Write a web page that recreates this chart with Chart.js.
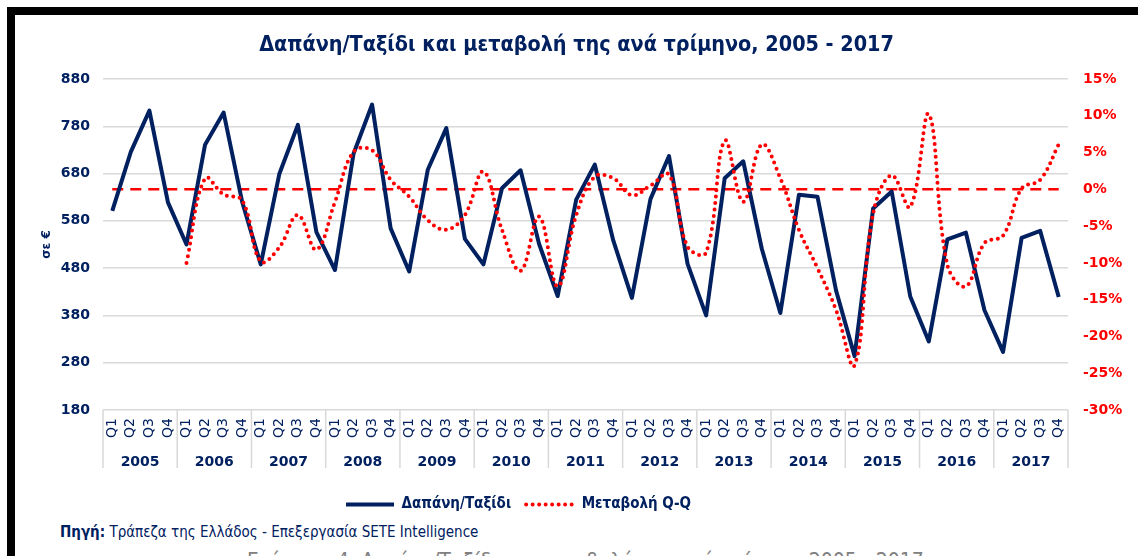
<!DOCTYPE html>
<html lang="el">
<head>
<meta charset="utf-8">
<title>Δαπάνη/Ταξίδι και μεταβολή</title>
<script src="https://cdn.jsdelivr.net/npm/chart.js@4.4.1/dist/chart.umd.min.js"></script>
<style>
  html, body { margin:0; padding:0; background:#fff; }
  body { width:1138px; height:556px; overflow:hidden; position:relative; font-family:'DejaVu Sans Condensed','DejaVu Sans',sans-serif; }
  .frame { position:absolute; left:7px; top:7px; right:0; bottom:0; border-left:8px solid #000; border-top:8px solid #000; }
  #chart { position:absolute; left:15px; top:15px; }
  .source { position:absolute; left:60px; top:523px; font-size:15px; color:#002060; white-space:nowrap; }
  .caption { position:absolute; left:247px; top:549px; font-size:21px; color:#808080; white-space:nowrap; }
</style>
</head>
<body>
<div class="frame"></div>
<canvas id="chart" width="1123" height="507"></canvas>
<div class="source"><b>Πηγή:</b> Τράπεζα της Ελλάδος - Επεξεργασία SETE Intelligence</div>
<div class="caption">Γράφημα 4: Δαπάνη/Ταξίδι και μεταβολή της ανά τρίμηνο, 2005 - 2017</div>
<script>
const NAVY = '#002060';
const RED = '#ff0000';

const years = ['2005','2006','2007','2008','2009','2010','2011','2012','2013','2014','2015','2016','2017'];
const quarters = ['Q1','Q2','Q3','Q4'];

// Δαπάνη/Ταξίδι (σε €), Q1..Q4 ανά έτος
const spend = [
  601, 726, 813, 619,
  530, 741, 809, 620,
  488, 679, 783, 556,
  476, 722, 826, 564,
  473, 688, 776, 542,
  488, 649, 687, 531,
  421, 625, 699, 538,
  417, 626, 717, 489,
  380, 670, 706, 521,
  385, 635, 631, 433,
  294, 606, 642, 420,
  325, 541, 555, 391,
  303, 544, 559, 419
];

// Μεταβολή Q-Q (%), δεν υπάρχει για το 2005
const changeQQ = [
  null, null, null, null,
  -10.0, 1.5, -0.7, -1.5,
  -9.8, -7.9, -3.5, -8.2,
  -1.7, 5.1, 5.3, 1.3,
  -1.0, -4.2, -5.5, -3.5,
  2.4, -5.5, -11.1, -3.7,
  -13.2, -3.5, 1.7, 1.5,
  -0.8, 0.5, 2.0, -7.8,
  -8.6, 6.6, -1.7, 6.1,
  1.5, -5.5, -10.7, -16.4,
  -23.9, -3.3, 1.9, -2.4,
  10.2, -10.3, -13.2, -7.3,
  -6.3, 0.1, 1.3, 6.1
];

const leftMin = 180, leftMax = 880, leftStep = 100;
const rightMin = -30, rightMax = 15, rightStep = 5;

const labels = years.flatMap(() => quarters);

Chart.defaults.font.family = '"DejaVu Sans", sans-serif';

// dashed 0% line across the categories
const zeroLine = {
  id: 'zeroLine',
  beforeDatasetsDraw(chart){
    const x = chart.scales.x, y = chart.scales.y1, ctx = chart.ctx;
    const py = y.getPixelForValue(0);
    ctx.save();
    ctx.strokeStyle = RED; ctx.lineWidth = 2.5; ctx.setLineDash([11, 7]);
    ctx.beginPath();
    ctx.moveTo(x.getPixelForValue(0), py);
    ctx.lineTo(x.getPixelForValue(labels.length - 1), py);
    ctx.stroke();
    ctx.restore();
  }
};

// second row of the x axis: years + separators
const yearAxis = {
  id: 'yearAxis',
  afterDraw(chart){
    const x = chart.scales.x, ctx = chart.ctx, top = chart.chartArea.bottom;
    const step = x.getPixelForValue(1) - x.getPixelForValue(0);
    ctx.save();
    ctx.strokeStyle = '#d9d9d9'; ctx.lineWidth = 1.5;
    for(let k = 0; k <= years.length; k++){
      const px = x.getPixelForValue(k * 4) - step / 2;
      ctx.beginPath(); ctx.moveTo(px, top); ctx.lineTo(px, top + 58); ctx.stroke();
    }
    ctx.fillStyle = NAVY;
    ctx.font = 'bold 14px "DejaVu Sans"';
    ctx.textAlign = 'center'; ctx.textBaseline = 'middle';
    years.forEach((yr, k) => {
      const cx = (x.getPixelForValue(k * 4 + 1) + x.getPixelForValue(k * 4 + 2)) / 2;
      ctx.fillText(yr, cx, top + 52);
    });
    ctx.restore();
  }
};

// legend sits left of centre in the original
const legendShift = {
  id: 'legendShift',
  afterLayout(chart){
    const lg = chart.legend;
    if(!lg || !lg.lineWidths) return;
    const pad = lg.options.labels.padding;
    const start = (lg.left + pad + lg.right - lg.lineWidths[0]) / 2;
    const d = 331 - start;
    lg.left += d; lg.right += d;
  }
};

new Chart(document.getElementById('chart'), {
  type: 'line',
  data: {
    labels,
    datasets: [
      { label:'Δαπάνη/Ταξίδι', data:spend, yAxisID:'y', borderColor:NAVY, backgroundColor:NAVY,
        borderWidth:4, pointRadius:0, tension:0, borderJoinStyle:'round', order:2 },
      { label:'Μεταβολή Q-Q', data:changeQQ, yAxisID:'y1', borderColor:RED, backgroundColor:RED,
        borderWidth:4, borderDash:[0, 6.5], borderCapStyle:'round', pointRadius:0, tension:0.4, order:1 }
    ]
  },
  options: {
    responsive:false,
    animation:false,
    layout:{ padding:0 },
    plugins:{
      title:{ display:true, text:'Δαπάνη/Ταξίδι και μεταβολή της ανά τρίμηνο, 2005 - 2017', color:NAVY,
        font:{ family:'"DejaVu Sans Condensed", "DejaVu Sans"', size:21.4, weight:'bold' },
        padding:{ top:17.2, bottom:21.1 } },
      legend:{ position:'bottom',
        labels:{ usePointStyle:true, pointStyleWidth:48, color:NAVY, padding:15,
          font:{ family:'"DejaVu Sans Condensed", "DejaVu Sans"', size:15, weight:'bold' },
          generateLabels(chart){
            return chart.data.datasets.map((ds, i) => ({
              text: ds.label, datasetIndex: i, hidden: false, pointStyle: 'line',
              fillStyle: ds.borderColor, strokeStyle: ds.borderColor, fontColor: NAVY,
              lineWidth: ds.borderWidth, lineDash: ds.borderDash || [], lineCap: ds.borderCapStyle || 'butt'
            }));
          } } },
      tooltip:{ enabled:false }
    },
    scales:{
      x:{ offset:true,
        grid:{ display:false, drawTicks:false }, border:{ display:false },
        ticks:{ autoSkip:false, maxRotation:90, minRotation:90, padding:8, color:NAVY, font:{ size:14 } },
        afterFit(s){ s.height = s.chart.height - s.chart.legend.height - 395; } },
      y:{ position:'left', min:leftMin, max:leftMax,
        ticks:{ stepSize:leftStep, color:NAVY, padding:13, font:{ size:14, weight:'bold' } },
        grid:{ color:'#d9d9d9', lineWidth:1.5, drawTicks:false }, border:{ display:false },
        title:{ display:true, text:'σε €', color:NAVY, font:{ size:12, weight:'bold' }, padding:{ top:24.8 } },
        afterFit(s){ s.width = 88; } },
      y1:{ position:'right', min:rightMin, max:rightMax,
        ticks:{ stepSize:rightStep, color:RED, padding:15, font:{ size:14, weight:'bold' }, callback:v => v + '%' },
        grid:{ display:false, drawTicks:false }, border:{ display:false },
        afterFit(s){ s.width = 70; } }
    }
  },
  plugins:[zeroLine, yearAxis, legendShift]
});
</script>
</body>
</html>
